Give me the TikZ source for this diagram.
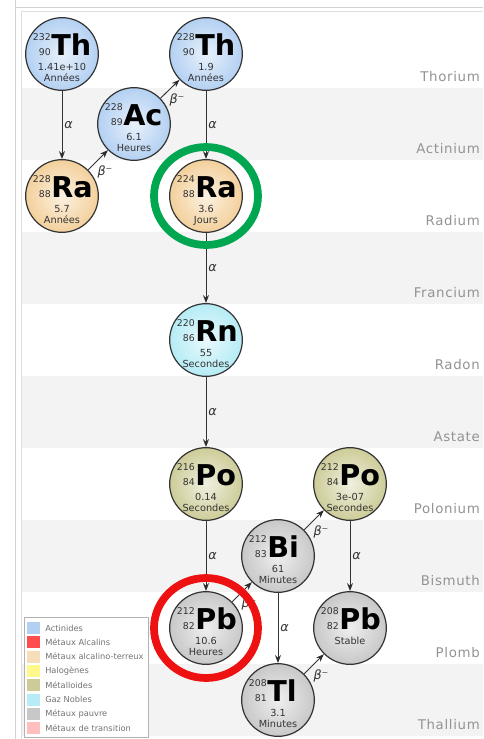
\documentclass[tikz,border=0pt]{standalone}
\usepackage{fontspec}
\setmainfont{DejaVu Sans}
\newfontfamily\bandfont[LetterSpace=5]{DejaVu Sans}
\usetikzlibrary{arrows.meta}
\definecolor{actinide}{HTML}{B3D0F2}
\definecolor{earth}{HTML}{F3D09C}
\definecolor{noble}{HTML}{B5ECF5}
\definecolor{metalloid}{HTML}{CDCC98}
\definecolor{poor}{HTML}{C8C8C8}
\definecolor{bandgray}{HTML}{F3F3F3}
\definecolor{ink}{HTML}{333333}
\definecolor{ringgreen}{HTML}{00A650}
\definecolor{ringred}{HTML}{EE1111}
% one nuclide: name, position, A, Z, symbol, half-life, unit, colour
\newcommand{\isotope}[8]{%
  \node[nuclide=#8] (#1) at (#2) {};
  \node[numsmall,anchor=base east] (#1-a) at ([shift={(-11,-14)}]#1.center) {#3};
  \node[numsmall,anchor=base east] (#1-z) at ([shift={(-11,1)}]#1.center) {#4};
  \node[symb,anchor=base west] (#1-s) at ([shift={(-11,1)}]#1.center) {#5};
  \node[life,anchor=base] (#1-t) at ([shift={(0,16)}]#1.center) {#6};
  \node[life,anchor=base] (#1-u) at ([shift={(0,27)}]#1.center) {#7};
}

\begin{document}
\begin{tikzpicture}[x=0.75pt,y=-0.75pt,
    nuclide/.style={circle,draw=ink,line width=0.9pt,minimum size=54.5pt,inner sep=0pt,
      shading=radial,inner color=#1!30!white,outer color=#1},
    numsmall/.style={font=\fontsize{7}{8}\selectfont,text=ink,inner sep=0pt},
    symb/.style={font=\fontsize{21.5}{22}\selectfont\bfseries,inner sep=0pt},
    life/.style={font=\fontsize{7.3}{8}\selectfont,text=ink,inner sep=0pt},
    decay/.style={-{Stealth[length=6pt,width=4.5pt]},draw=ink,line width=0.7pt},
    lab/.style={font=\fontsize{9.5}{10}\selectfont\itshape,text=ink,inner sep=1.5pt},
    bandlabel/.style={font=\bandfont\fontsize{10}{11}\selectfont,text=gray!85,anchor=east,inner sep=0pt},
    legtext/.style={font=\fontsize{6.2}{7}\selectfont,text=gray!90!black,anchor=west,inner sep=0pt},
    ring/.style={draw=#1,line width=5.8pt}]
  \useasboundingbox (0,0) rectangle (483,739);
  \clip (0,0) rectangle (483,739);
  % frame and bands
  \draw[gray!35] (15,0) -- (15,739);
  \draw[gray!25] (21,11) -- (21,739);
  \draw[gray!35] (15,7) -- (483,7);
  \draw[gray!25] (21,11) -- (483,11);
  \foreach \y in {88,232,376,520,664}
    \fill[bandgray] (22,\y) rectangle (483,\y+72);
  \foreach \el [count=\i] in {Thorium,Actinium,Radium,Francium,Radon,Astate,Polonium,Bismuth,Plomb,Thallium}
    \node[bandlabel] (band-\i) at (480,5+72*\i) {\el};
  % nuclides
  \isotope{th232}{62,54}{232}{90}{Th}{1.41e+10}{Années}{actinide}
  \isotope{th228}{206,54}{228}{90}{Th}{1.9}{Années}{actinide}
  \isotope{ac228}{134,124}{228}{89}{Ac}{6.1}{Heures}{actinide}
  \isotope{ra228}{62,196}{228}{88}{Ra}{5.7}{Années}{earth}
  \isotope{ra224}{206,196}{224}{88}{Ra}{3.6}{Jours}{earth}
  \isotope{rn220}{206,340}{220}{86}{Rn}{55}{Secondes}{noble}
  \isotope{po216}{206,484}{216}{84}{Po}{0.14}{Secondes}{metalloid}
  \isotope{po212}{350,484}{212}{84}{Po}{3e-07}{Secondes}{metalloid}
  \isotope{bi212}{278,556}{212}{83}{Bi}{61}{Minutes}{poor}
  \isotope{pb212}{206,628}{212}{82}{Pb}{10.6}{Heures}{poor}
  \isotope{pb208}{350,628}{208}{82}{Pb}{Stable}{}{poor}
  \isotope{tl208}{278,700}{208}{81}{Tl}{3.1}{Minutes}{poor}
  % decays
  \path[decay]
    (th232) edge node[lab,right] {α} (ra228)
    (th228) edge node[lab,right] {α} (ra224)
    (ra224) edge node[lab,right] {α} (rn220)
    (rn220) edge node[lab,right] {α} (po216)
    (po216) edge node[lab,right] {α} (pb212)
    (bi212) edge node[lab,right] {α} (tl208)
    (po212) edge node[lab,right] {α} (pb208)
    (ra228) edge node[lab,pos=0.35,anchor=north west] {β⁻} (ac228)
    (ac228) edge node[lab,pos=0.35,anchor=north west] {β⁻} (th228)
    (pb212) edge node[lab,pos=0.35,anchor=north west] {β⁻} (bi212)
    (bi212) edge node[lab,pos=0.35,anchor=north west] {β⁻} (po212)
    (tl208) edge node[lab,pos=0.35,anchor=north west] {β⁻} (pb208);
  % legend
  \draw[gray!60,fill=white] (24,617) rectangle (148,737);
  \foreach \c/\t [count=\i] in {actinide/Actinides,red!70/Métaux Alcalins,
      earth!70/Métaux alcalino-terreux,yellow!45/Halogènes,metalloid/Métalloides,
      noble/Gaz Nobles,poor/Métaux pauvre,red!25/Métaux de transition} {
    \fill[\c] (27,622+14.3*\i-14.3) rectangle (40,634+14.3*\i-14.3);
    \node[legtext] (leg-\i) at (45,628+14.3*\i-14.3) {\t};
  }
  % highlights
  \draw[ring=ringgreen] (ra224.center) ellipse [x radius=52,y radius=49];
  \draw[ring=ringred] (pb212.center) ellipse [x radius=52,y radius=50];
\end{tikzpicture}
\end{document}
